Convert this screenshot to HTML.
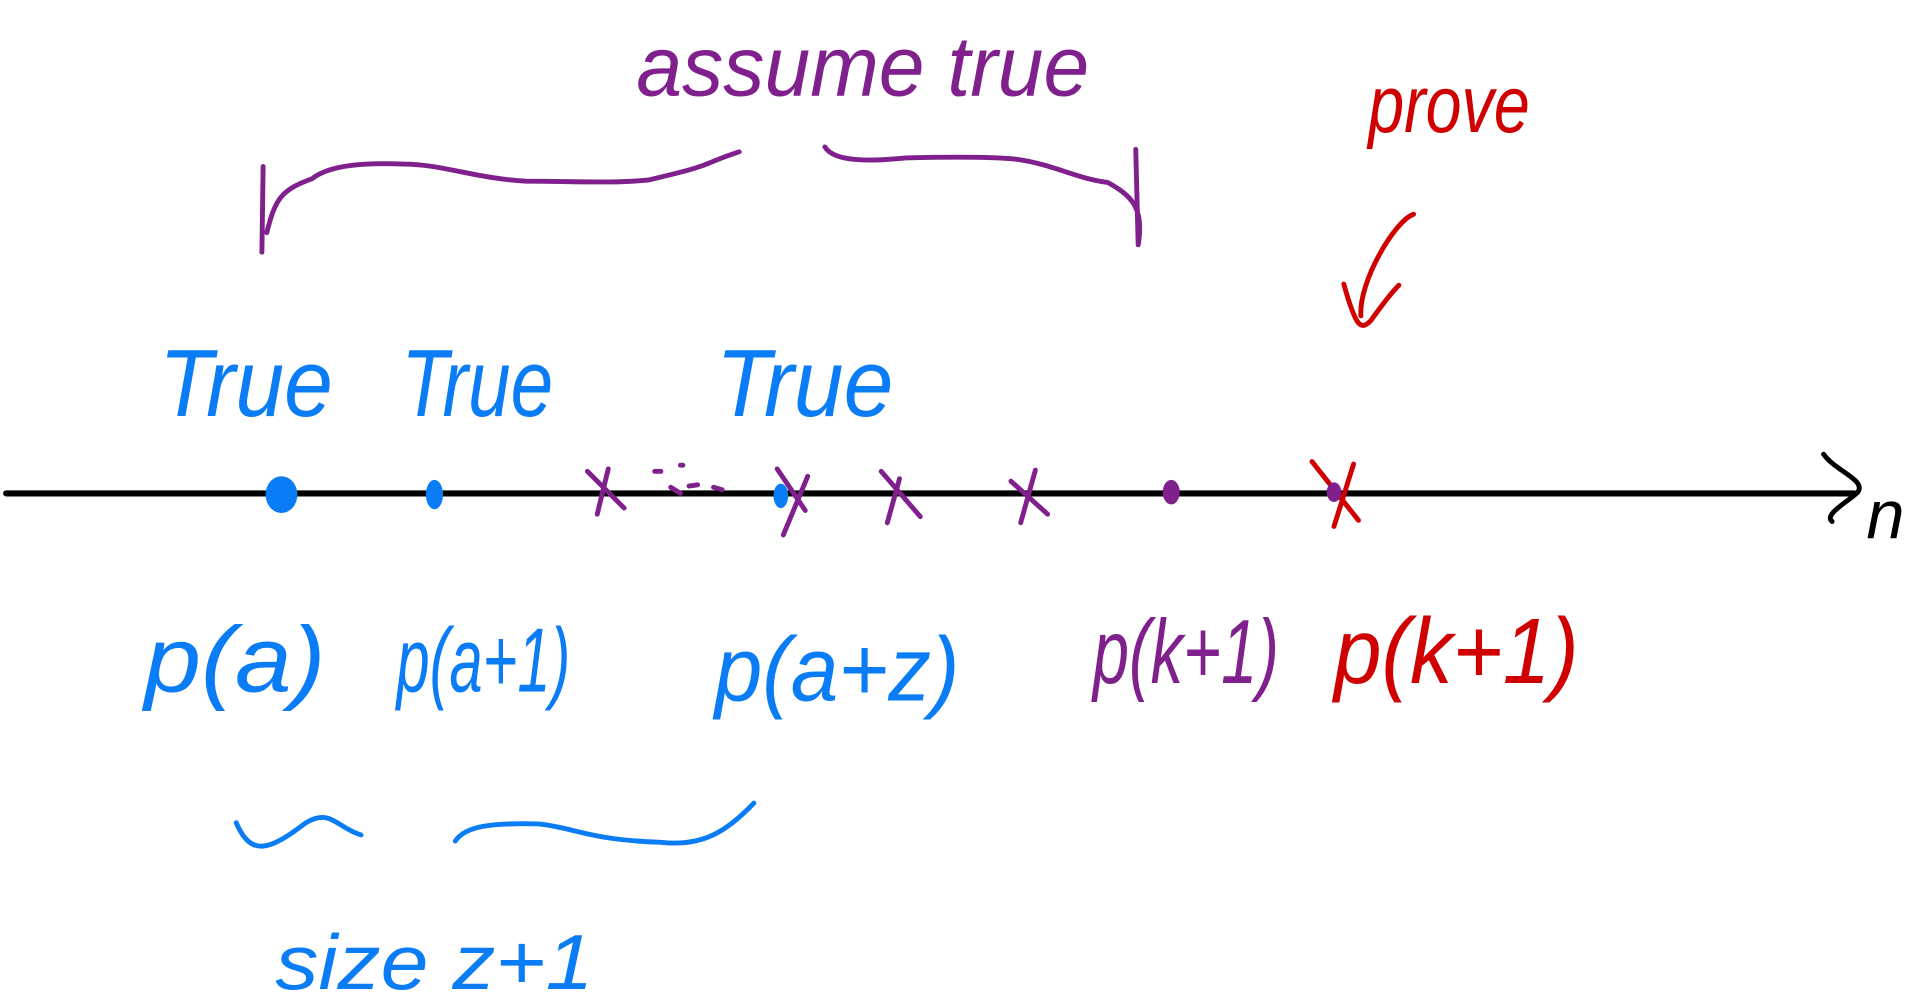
<!DOCTYPE html>
<html>
<head>
<meta charset="utf-8">
<style>
html,body{margin:0;padding:0;background:#fff;}
svg{display:block;}
text{font-family:"Liberation Sans",sans-serif;}
</style>
</head>
<body>
<svg width="1919" height="999" viewBox="0 0 1568 816" preserveAspectRatio="none">
<rect width="1568" height="816" fill="#fff"/>
<g fill="none" stroke-linecap="round" stroke-linejoin="round">
  <path d="M5 403 L1515 403" stroke="#000" stroke-width="5"/>
  <path d="M1490 371 C1500 385 1525 392 1518 402 C1510 410 1490 420 1497 426" stroke="#000" stroke-width="4"/>
  <path d="M604 124 C570 135 590 133 530 147 C500 150 470 148 430 148 C390 146 360 134 330 134 C300 133 270 134 255 146 C230 155 225 162 218 190 M215 136 L214 206" stroke="#80208c" stroke-width="4"/>
  <path d="M674 120 C680 130 700 133 740 129 C780 128 810 128 830 130 C860 134 880 146 905 149 C925 160 935 170 930 200 M928 122 L930 200" stroke="#80208c" stroke-width="4"/>
  <path d="M1155 175 C1140 180 1110 230 1112 258 M1098 232 C1108 268 1112 270 1120 262 C1130 248 1138 238 1143 233" stroke="#d00000" stroke-width="4"/>
  <path d="M193 672 C205 700 220 695 250 672 C270 660 275 676 295 682 M372 687 C380 675 400 672 440 673 C470 676 480 686 540 688 C575 692 595 678 616 656" stroke="#0a7cf5" stroke-width="4"/>
  <path d="M480 385 L510 415 M497 383 L488 420" stroke="#80208c" stroke-width="4"/>
  <path d="M535 385 L540 385 M556 380 L558 380 M548 398 L556 403 M563 397 L570 396 M583 398 L590 400" stroke="#80208c" stroke-width="4"/>
  <path d="M635 383 L658 417 M660 389 L640 437" stroke="#80208c" stroke-width="4"/>
  <path d="M720 385 L752 422 M735 391 L725 427" stroke="#80208c" stroke-width="4"/>
  <path d="M826 393 L856 420 M846 384 L834 427" stroke="#80208c" stroke-width="4"/>
  <path d="M1072 377 L1110 425 M1106 379 L1090 430" stroke="#d00000" stroke-width="4"/>
</g>
<ellipse cx="230" cy="404" rx="13" ry="15" fill="#0a7cf5"/>
<ellipse cx="355" cy="404" rx="7" ry="12" fill="#0a7cf5"/>
<ellipse cx="638" cy="405" rx="6" ry="10" fill="#0a7cf5"/>
<ellipse cx="957" cy="402" rx="7" ry="10" fill="#80208c"/>
<ellipse cx="1090" cy="402" rx="6" ry="8" fill="#80208c"/>
<g font-style="italic" lengthAdjust="spacingAndGlyphs">
  <text x="520" y="78" font-size="70" textLength="370" lengthAdjust="spacingAndGlyphs" fill="#80208c">assume true</text>
  <text x="1118" y="108" font-size="66" textLength="132" lengthAdjust="spacingAndGlyphs" fill="#d00000">prove</text>
  <text x="130" y="340" font-size="78" textLength="142" lengthAdjust="spacingAndGlyphs" fill="#0a7cf5">True</text>
  <text x="328" y="340" font-size="78" textLength="124" lengthAdjust="spacingAndGlyphs" fill="#0a7cf5">True</text>
  <text x="585" y="340" font-size="78" textLength="145" lengthAdjust="spacingAndGlyphs" fill="#0a7cf5">True</text>
  <text x="1525" y="440" font-size="56" fill="#000">n</text>
  <text x="118" y="565" font-size="76" textLength="148" lengthAdjust="spacingAndGlyphs" fill="#0a7cf5">p(a)</text>
  <text x="324" y="565" font-size="74" textLength="142" lengthAdjust="spacingAndGlyphs" fill="#0a7cf5">p(a+1)</text>
  <text x="584" y="572" font-size="74" textLength="200" lengthAdjust="spacingAndGlyphs" fill="#0a7cf5">p(a+z)</text>
  <text x="893" y="558" font-size="74" textLength="152" lengthAdjust="spacingAndGlyphs" fill="#80208c">p(k+1)</text>
  <text x="1090" y="558" font-size="76" textLength="200" lengthAdjust="spacingAndGlyphs" fill="#d00000">p(k+1)</text>
  <text x="225" y="808" font-size="64" textLength="260" lengthAdjust="spacingAndGlyphs" fill="#0a7cf5">size z+1</text>
</g>
</svg>
</body>
</html>
